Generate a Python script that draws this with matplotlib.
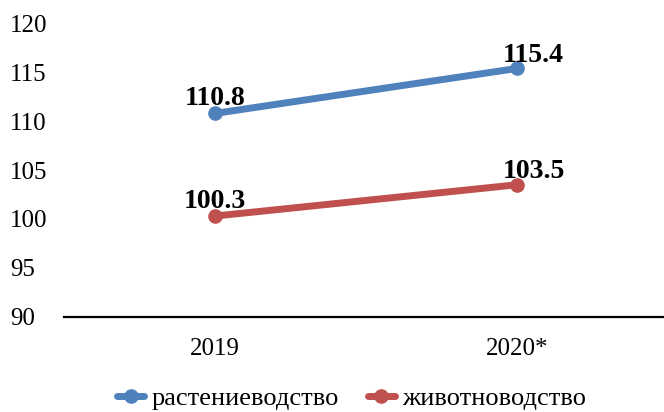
import matplotlib
matplotlib.use("Agg")
import matplotlib.pyplot as plt

categories = ["2019", "2020*"]
series_names = ["растениеводство", "животноводство"]
crop_values = [110.8, 115.4]
livestock_values = [100.3, 103.5]
y_ticks = [90, 95, 100, 105, 110, 115, 120]

plt.rcParams['font.family'] = ['Liberation Serif', 'DejaVu Serif']

W, H = 664, 412
fig = plt.figure(figsize=(W/100, H/100), dpi=100)
ax = fig.add_axes([64/W, 1-316.7/H, 604/W, (316.7-23.5)/H])

colors = ["#4F81BD", "#C0504D"]
x = list(range(len(categories)))
label_offsets = [(0, 6), (12, 5)]
for vals, name, c in zip([crop_values, livestock_values], series_names, colors):
    ax.plot(x, vals, color=c, lw=5, marker='o', ms=9.5, label=name,
            solid_capstyle='round')
    for xi, v in zip(x, vals):
        ax.annotate(f"{v:.1f}", (xi, v), xytext=label_offsets[xi],
                    textcoords='offset points', ha='center', va='baseline',
                    fontsize=20, fontweight='bold')

ax.set_xlim(-0.5, 1.5)
ax.set_ylim(90, 120)
ax.set_yticks(y_ticks)
ax.set_yticklabels([str(t) for t in y_ticks], fontsize=18)
for lab in ax.get_yticklabels():
    lab.set_ha('left')
ax.set_xticks(x)
ax.set_xticklabels(categories, fontsize=18)
ax.tick_params(axis='both', length=0)
ax.tick_params(axis='y', pad=(64-10)*0.72)
ax.tick_params(axis='x', pad=15)
for s in ['top', 'right', 'left']:
    ax.spines[s].set_visible(False)
ax.spines['bottom'].set_linewidth(1.6)
ax.spines['bottom'].set_color('black')

leg = fig.legend(loc='center', bbox_to_anchor=(352/W, 1-398/H), ncol=2,
                 frameon=False, fontsize=19, handlelength=1.0, handletextpad=0.3,
                 columnspacing=1.1, borderpad=0, borderaxespad=0)

fig.savefig("out.png", dpi=100)
